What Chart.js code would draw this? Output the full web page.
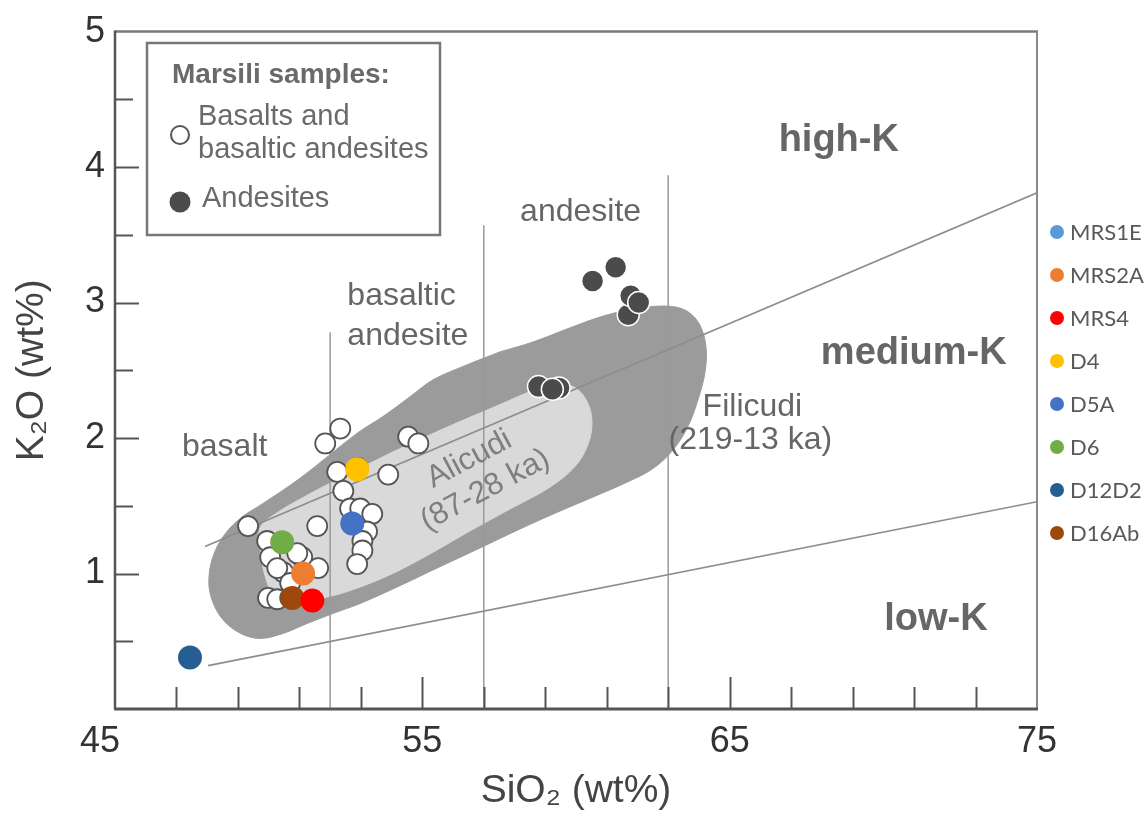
<!DOCTYPE html>
<html><head><meta charset="utf-8">
<script src="https://cdn.jsdelivr.net/npm/chart.js@4.4.1/dist/chart.umd.min.js"></script>
<style>html,body{margin:0;padding:0;background:#fff}</style>
</head><body>
<canvas id="c" width="1147" height="821"></canvas>
<script>
// ---------- DATA ----------
const basaltSiO2 = [52.33, 51.84, 54.54, 54.87, 52.23, 53.89, 52.43, 52.65, 52.98, 53.37, 51.58, 49.33, 53.20, 53.05, 53.05, 52.88, 49.95, 50.05, 51.09, 51.61, 50.47, 50.93, 50.28, 50.70, 49.98, 50.28, 50.70, 52.90];
const basaltK2O  = [2.07, 1.96, 2.01, 1.96, 1.75, 1.73, 1.61, 1.48, 1.48, 1.44, 1.35, 1.35, 1.31, 1.24, 1.17, 1.07, 1.24, 1.12, 1.12, 1.04, 1.01, 1.15, 1.04, 0.93, 0.82, 0.81, 0.82, 1.78];

const andesiteSiO2 = [60.54, 61.29, 61.70, 61.78, 62.04, 59.45, 58.78, 59.23];
const andesiteK2O  = [3.16, 3.26, 2.91, 3.05, 3.00, 2.37, 2.38, 2.36];

const sampleNames = ['MRS1E', 'MRS2A', 'MRS4', 'D4', 'D5A', 'D6', 'D12D2', 'D16Ab'];
const sampleSiO2  = [null, 51.12, 51.42, 52.88, 52.72, 50.44, 47.44, 50.77];
const sampleK2O   = [null, 1.00, 0.80, 1.77, 1.37, 1.23, 0.38, 0.82];
const sampleColors = ['#5b9bd5', '#ed7d31', '#ff0000', '#ffc000', '#4472c4', '#70ad47', '#255e91', '#9e480e'];

// Filicudi field (outer, dark) and Alicudi field (inner, light) outlines
const filicudiSiO2 = [57.53, 58.60, 59.71, 60.78, 61.85, 62.96, 63.61, 64.03, 64.23, 64.20, 63.97, 63.61, 63.12, 62.47, 61.59, 60.62, 59.48, 58.18, 56.88, 55.57, 54.27, 52.97, 52.09, 51.25, 50.47, 49.72, 49.07, 48.48, 48.12, 48.06, 48.22, 48.58, 49.13, 49.78, 51.02, 52.87, 53.72, 54.60, 55.35, 56.45, 57.53];
const filicudiK2O  = [2.636, 2.709, 2.805, 2.893, 2.952, 2.974, 2.937, 2.834, 2.673, 2.489, 2.283, 2.070, 1.902, 1.769, 1.667, 1.571, 1.461, 1.329, 1.189, 1.050, 0.910, 0.778, 0.705, 0.631, 0.558, 0.521, 0.560, 0.668, 0.830, 0.984, 1.145, 1.292, 1.417, 1.512, 1.703, 2.034, 2.159, 2.305, 2.430, 2.540, 2.636];
const alicudiSiO2 = [52.97, 53.95, 54.92, 56.23, 57.53, 58.50, 59.32, 59.97, 60.36, 60.52, 60.39, 59.97, 59.15, 57.85, 56.55, 55.25, 53.95, 52.65, 51.67, 50.79, 50.17, 49.88, 49.75, 49.72, 50.21, 51.02, 52.00, 52.97];
const alicudiK2O  = [1.777, 1.887, 1.990, 2.122, 2.247, 2.342, 2.401, 2.372, 2.269, 2.122, 1.953, 1.791, 1.637, 1.476, 1.314, 1.145, 0.991, 0.874, 0.815, 0.786, 0.844, 0.984, 1.167, 1.336, 1.439, 1.549, 1.667, 1.777];

// Series boundaries (high-K / medium-K and medium-K / low-K)
const highKLineSiO2 = [47.93, 75];
const highKLineK2O  = [1.20, 3.81];
const lowKLineSiO2  = [48.03, 75];
const lowKLineK2O   = [0.32, 1.53];
// Rock-type divisions (SiO2 position and upper K2O end)
const divisionSiO2 = [52, 57, 63];
const divisionTopK2O = [2.78, 3.57, 3.94];

// Axis ticks
const xTickLabels = [45, 55, 65, 75];
const yTickLabels = [1, 2, 3, 4, 5];

// ---------- BUILD ----------
const FONT = "'Liberation Sans', Arial, Helvetica, sans-serif";
const xy = (xs, ys) => xs.map((v, i) => ({x: v, y: ys[i]})).filter(p => p.x !== null);

const datasets = [];
sampleNames.forEach((n, i) => {
  datasets.push({
    label: n, data: xy([sampleSiO2[i]], [sampleK2O[i]]),
    backgroundColor: sampleColors[i], borderColor: sampleColors[i], borderWidth: 0,
    pointRadius: 12, order: 1, isSample: true
  });
});
datasets.push({label: 'Andesites', data: xy(andesiteSiO2, andesiteK2O),
  backgroundColor: '#4b4b4b', borderColor: '#ffffff', borderWidth: 1.5, pointRadius: 11, order: 2});
datasets.push({label: 'Basalts and basaltic andesites', data: xy(basaltSiO2, basaltK2O),
  backgroundColor: '#ffffff', borderColor: '#555555', borderWidth: 1.8, pointRadius: 10, order: 3});
const lineStyle = {type: 'line', borderColor: '#8d8d8d', borderWidth: 1.6, pointRadius: 0, fill: false, tension: 0, order: 5};
datasets.push(Object.assign({label: 'high-K boundary', data: xy(highKLineSiO2, highKLineK2O)}, lineStyle));
datasets.push(Object.assign({label: 'low-K boundary', data: xy(lowKLineSiO2, lowKLineK2O)}, lineStyle));
divisionSiO2.forEach((s, i) => {
  datasets.push(Object.assign({label: 'division ' + s, data: xy([s, s], [0, divisionTopK2O[i]])}, lineStyle, {borderColor: '#9a9a9a', borderWidth: 1.5}));
});
datasets.push({type: 'line', label: 'Alicudi', data: xy(alicudiSiO2, alicudiK2O),
  borderColor: '#d9d9d9', backgroundColor: '#d9d9d9', borderWidth: 1, fill: 'shape', tension: 0.35, pointRadius: 0, order: 8});
datasets.push({type: 'line', label: 'Filicudi', data: xy(filicudiSiO2, filicudiK2O),
  borderColor: '#9b9b9b', backgroundColor: '#9b9b9b', borderWidth: 1, fill: 'shape', tension: 0.35, pointRadius: 0, order: 9});

const regionLabels = [
  {text: 'high-K',   si: 68.55, k: 4.12, font: 'bold 38px ' + FONT, align: 'center'},
  {text: 'medium-K', si: 70.99, k: 2.55, font: 'bold 38px ' + FONT, align: 'center'},
  {text: 'low-K',    si: 71.71, k: 0.58, font: 'bold 38px ' + FONT, align: 'center'},
  {text: 'andesite', si: 60.15, k: 3.605, font: '32px ' + FONT, align: 'center'},
  {text: 'basaltic', si: 52.56, k: 2.98, font: '32px ' + FONT, align: 'left'},
  {text: 'andesite', si: 52.56, k: 2.69, font: '32px ' + FONT, align: 'left'},
  {text: 'basalt',   si: 47.18, k: 1.865, font: '32px ' + FONT, align: 'left'},
  {text: 'Filicudi', si: 64.12, k: 2.16, font: '32px ' + FONT, align: 'left'},
  {text: '(219-13 ka)', si: 63.01, k: 1.916, font: '32px ' + FONT, align: 'left'},
  {text: 'Alicudi', si: 56.53, k: 1.843, font: '31px ' + FONT, align: 'center', baseline: 'middle', rot: -28, color: '#7f7f7f'},
  {text: '(87-28 ka)', si: 57.05, k: 1.615, font: '31px ' + FONT, align: 'center', baseline: 'middle', rot: -28, color: '#7f7f7f'}
];

function seg(ctx, x1, y1, x2, y2) { ctx.beginPath(); ctx.moveTo(x1, y1); ctx.lineTo(x2, y2); ctx.stroke(); }

const framePlugin = {
  id: 'frame',
  afterDatasetsDraw(chart) {
    const {ctx, chartArea: a, scales: {x, y}} = chart;
    ctx.save();
    // region labels
    regionLabels.forEach(l => {
      ctx.save();
      ctx.translate(x.getPixelForValue(l.si), y.getPixelForValue(l.k));
      if (l.rot) ctx.rotate(l.rot * Math.PI / 180);
      ctx.font = l.font; ctx.fillStyle = l.color || '#666666';
      ctx.textAlign = l.align; ctx.textBaseline = l.baseline || 'alphabetic';
      ctx.fillText(l.text, 0, 0);
      ctx.restore();
    });
    // inward ticks
    ctx.strokeStyle = '#555'; ctx.lineWidth = 2;
    x.ticks.forEach(t => {
      if (t.value <= 45 || t.value >= 75) return;
      const px = Math.round(x.getPixelForValue(t.value)) + 0.5;
      seg(ctx, px, a.bottom, px, a.bottom - (xTickLabels.includes(t.value) ? 32 : 22));
    });
    y.ticks.forEach(t => {
      if (t.value <= 0 || t.value >= 5) return;
      const py = Math.round(y.getPixelForValue(t.value)) + 0.5;
      seg(ctx, a.left, py, a.left + (Number.isInteger(t.value) ? 24 : 18), py);
    });
    // frame
    ctx.strokeStyle = '#7a7a7a'; ctx.lineWidth = 2.5; seg(ctx, a.left, a.top, a.right + 1, a.top);
    ctx.strokeStyle = '#8a8a8a'; ctx.lineWidth = 2; seg(ctx, a.right, a.top, a.right, a.bottom);
    ctx.strokeStyle = '#555'; ctx.lineWidth = 2.5; seg(ctx, a.left, a.top - 1, a.left, a.bottom);
    ctx.lineWidth = 3; seg(ctx, a.left - 1, a.bottom, a.right + 1, a.bottom);
    ctx.restore();
  },
  afterDraw(chart) {
    const ctx = chart.ctx;
    ctx.save();
    // Marsili samples box
    ctx.fillStyle = '#fff'; ctx.fillRect(147, 43, 293, 192);
    ctx.strokeStyle = '#777'; ctx.lineWidth = 2.5; ctx.strokeRect(147, 43, 293, 192);
    ctx.fillStyle = '#6a6a6a'; ctx.textAlign = 'left'; ctx.textBaseline = 'alphabetic';
    ctx.font = 'bold 28px ' + FONT; ctx.fillText('Marsili samples:', 172, 83);
    ctx.font = '29px ' + FONT;
    ctx.fillText('Basalts and', 198, 125);
    ctx.fillText('basaltic andesites', 198, 158);
    ctx.fillText('Andesites', 202, 207);
    ctx.beginPath(); ctx.arc(180, 135, 9, 0, Math.PI * 2); ctx.fillStyle = '#fff'; ctx.fill();
    ctx.strokeStyle = '#555'; ctx.lineWidth = 2; ctx.stroke();
    ctx.beginPath(); ctx.arc(180, 202, 10.5, 0, Math.PI * 2); ctx.fillStyle = '#4b4b4b'; ctx.fill();
    // sample legend (right)
    const items = chart.data.datasets.filter(d => d.isSample);
    items.forEach((d, i) => {
      const cy = 232 + i * 43;
      ctx.beginPath(); ctx.arc(1057, cy, 7, 0, Math.PI * 2); ctx.fillStyle = d.backgroundColor; ctx.fill();
      ctx.fillStyle = '#595959'; ctx.font = '22px Lato, Carlito, sans-serif';
      ctx.textBaseline = 'middle'; ctx.fillText(d.label, 1070, cy + 1);
    });
    ctx.restore();
  }
};

new Chart(document.getElementById('c'), {
  type: 'scatter',
  data: {datasets},
  options: {
    responsive: false, animation: false, events: [],
    layout: {padding: {top: 28, right: 110, left: 0, bottom: 0}},
    plugins: {legend: {display: false}, tooltip: {enabled: false}},
    scales: {
      x: {
        type: 'linear', min: 45, max: 75,
        ticks: {stepSize: 2, autoSkip: false, maxRotation: 0, padding: 11, color: '#333',
          font: {family: FONT, size: 36},
          callback: v => xTickLabels.includes(v) ? (v === 45 ? '45   ' : String(v)) : ''},
        grid: {display: false, drawTicks: false}, border: {display: false},
        title: {display: true, text: 'SiO₂ (wt%)', color: '#444', font: {family: FONT, size: 39}, padding: {top: 0, bottom: 6}},
        afterFit: s => { s.height = 112; }
      },
      y: {
        type: 'linear', min: 0, max: 5,
        ticks: {stepSize: 0.5, autoSkip: false, padding: 10, color: '#333',
          font: {family: FONT, size: 36}, callback: v => yTickLabels.includes(v) ? String(v) : ''},
        grid: {display: false, drawTicks: false}, border: {display: false},
        title: {display: true, text: 'K₂O (wt%)', color: '#444', font: {family: FONT, size: 39}, padding: {top: 9, bottom: 0}},
        afterFit: s => { s.width = 115; }
      }
    }
  },
  plugins: [framePlugin]
});
</script>
</body></html>
